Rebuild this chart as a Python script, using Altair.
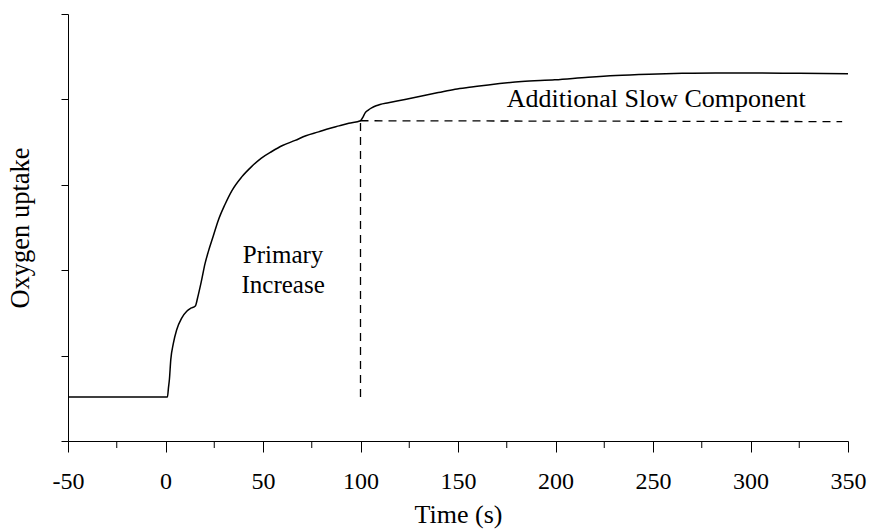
import altair as alt
import pandas as pd

# Oxygen uptake curve (time in s, uptake in arbitrary units)
time = [-50, 1, 1.5, 2, 2.7, 4, 5.7, 8.3, 10.9, 13, 15.3, 16.5, 18.3, 20.3, 22, 24.5,
        27, 30.5, 34, 39, 44, 49, 54.5, 60, 66.5, 72, 78.5, 84, 89, 94, 100,
        101.2, 102.3, 104, 105.7, 108, 110, 114.3, 122.8, 131.4, 139.9, 148.5, 157,
        165.5, 182.7, 199.7, 216.8, 231, 248, 265, 282, 300, 325, 350]
uptake = [0.515, 0.515, 0.62, 0.72, 0.95, 1.14, 1.30, 1.44, 1.52, 1.555, 1.58, 1.68,
          1.86, 2.08, 2.22, 2.40, 2.58, 2.77, 2.93, 3.09, 3.21, 3.31, 3.39, 3.46, 3.52,
          3.575, 3.62, 3.66, 3.69, 3.72, 3.75,
          3.79, 3.84, 3.875, 3.90, 3.925, 3.94, 3.96, 4.00, 4.04, 4.08, 4.12, 4.145,
          4.17, 4.21, 4.23, 4.26, 4.28, 4.295, 4.305, 4.31, 4.31, 4.305, 4.30]

# dashed guide lines
vline_x = [100, 100]
vline_y = [0.515, 3.75]
hline_x = [100, 347]
hline_y = [3.75, 3.74]

# axis ticks
x_major = [-50, 0, 50, 100, 150, 200, 250, 300, 350]
x_minor = [-25, 25, 75, 125, 175, 225, 275, 325]
y_ticks = [0, 1, 2, 3, 4, 5]

# annotations
ann_text = ["Primary", "Increase"]
ann_x = [60.3, 60.3]
ann_y = [2.08, 1.73]
ann2_text = ["Additional Slow Component"]
ann2_x = [175]
ann2_y = [3.91]

FONT = "Liberation Serif"

xscale = alt.Scale(domain=[-50, 350], nice=False, zero=False)
yscale = alt.Scale(domain=[0, 5], nice=False, zero=False)

curve_df = pd.DataFrame({"t": time, "v": uptake})
vdf = pd.DataFrame({"t": vline_x, "v": vline_y})
hdf = pd.DataFrame({"t": hline_x, "v": hline_y})
minor_df = pd.DataFrame({"t": x_minor})
ann_df = pd.DataFrame({"t": ann_x, "v": ann_y, "s": ann_text})
ann2_df = pd.DataFrame({"t": ann2_x, "v": ann2_y, "s": ann2_text})

xaxis = alt.Axis(values=x_major, tickSize=11, labelPadding=17, labelFontSize=24,
                 labelFont=FONT, labelColor="black", labelExpr="datum.value + ''",
                 title="Time (s)",
                 titleFont=FONT, titleFontSize=26, titleFontWeight="normal",
                 titleColor="black", titlePadding=8, domainColor="black",
                 tickColor="black", grid=False, labelFlush=False)
yaxis = alt.Axis(values=y_ticks, tickSize=7, labels=False, title="Oxygen uptake",
                 titleFont=FONT, titleFontSize=26.5, titleFontWeight="normal",
                 titleColor="black", titlePadding=26, domainColor="black",
                 tickColor="black", grid=False)

curve = alt.Chart(curve_df).mark_line(color="black", strokeWidth=1.5, interpolate="monotone").encode(
    x=alt.X("t:Q", scale=xscale, axis=xaxis),
    y=alt.Y("v:Q", scale=yscale, axis=yaxis),
)

vline = alt.Chart(vdf).mark_line(color="black", strokeWidth=1.3, strokeDash=[8, 6]).encode(
    x=alt.X("t:Q", scale=xscale), y=alt.Y("v:Q", scale=yscale)
)
hline = alt.Chart(hdf).mark_line(color="black", strokeWidth=1.3, strokeDash=[8, 6]).encode(
    x=alt.X("t:Q", scale=xscale), y=alt.Y("v:Q", scale=yscale)
)

minor = alt.Chart(minor_df).mark_rule(color="black", strokeWidth=1).encode(
    x=alt.X("t:Q", scale=xscale),
    y=alt.value(427),
    y2=alt.value(434),
)

ann = alt.Chart(ann_df).mark_text(font=FONT, fontSize=25, color="black",
                                  align="center", baseline="alphabetic").encode(
    x=alt.X("t:Q", scale=xscale), y=alt.Y("v:Q", scale=yscale), text="s:N"
)
ann2 = alt.Chart(ann2_df).mark_text(font=FONT, fontSize=26, color="black",
                                    align="left", baseline="alphabetic").encode(
    x=alt.X("t:Q", scale=xscale), y=alt.Y("v:Q", scale=yscale), text="s:N"
)

chart = alt.layer(curve, vline, hline, minor, ann, ann2).properties(
    width=780, height=427,
    autosize=alt.AutoSizeParams(type="none"),
    padding={"left": 68, "top": 14, "right": 21, "bottom": 90},
    background="white",
).configure_view(stroke=None)

chart.save("out.html", embed_options={"renderer": "svg", "actions": False})
